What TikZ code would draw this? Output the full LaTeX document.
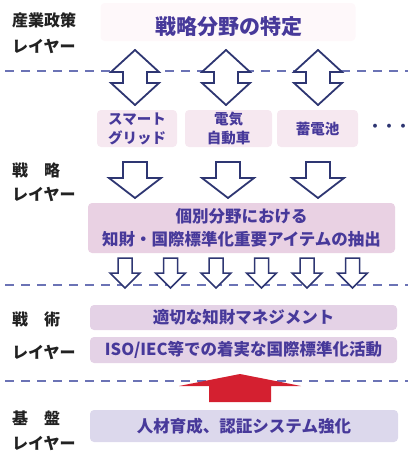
\documentclass[tikz,border=0pt]{standalone}
\usepackage{fontspec}
\newfontfamily\jp{Noto Sans CJK JP}
\definecolor{txt}{HTML}{47399A}
\definecolor{lblc}{HTML}{222222}
\definecolor{nav}{HTML}{2E3672}
\definecolor{dashc}{HTML}{6B73B5}
\definecolor{pk0}{HTML}{FEF8FA}
\definecolor{pk1}{HTML}{F6E8F0}
\definecolor{pk2}{HTML}{E9D1E3}
\definecolor{pk3}{HTML}{E4D2E6}
\definecolor{lav}{HTML}{DCD8EC}
\definecolor{redar}{HTML}{D42030}
\newcommand\blkdn[7][]{% cx, top, base, tip, halfshaft, halfhead
  \draw[blk,#1] ({#2-#6},#3) -- ({#2+#6},#3) -- ({#2+#6},#4) -- ({#2+#7},#4) -- (#2,#5) -- ({#2-#7},#4) -- ({#2-#6},#4) -- cycle;}
\newcommand\blkud[7]{% cx, top tip, base1, base2, bottom tip, halfshaft, halfhead
  \draw[blk] (#1,#2) -- ({#1+#7},#3) -- ({#1+#6},#3) -- ({#1+#6},#4) -- ({#1+#7},#4) -- (#1,#5) -- ({#1-#7},#4) -- ({#1-#6},#4) -- ({#1-#6},#3) -- ({#1-#7},#3) -- cycle;}
\begin{document}
\begin{tikzpicture}[x=1pt,y=-1pt,
  boxstyle/.style={rounded corners=4pt, inner sep=0pt, align=center, text=txt,
    font=\jp\bfseries\fontsize{16.5}{23}\selectfont},
  smallbox/.style={boxstyle, fill=pk1, minimum height=37pt,
    font=\jp\bfseries\fontsize{14.5}{19}\selectfont},
  lbl/.style={anchor=west, text=lblc, inner sep=0pt, font=\jp\bfseries\fontsize{16}{16}\selectfont},
  dashline/.style={draw=dashc, line width=1.6pt, dash pattern=on 9pt off 7pt},
  blk/.style={draw=nav, fill=white, line width=1.8pt, line join=miter}]
\useasboundingbox (0,0) rectangle (412,453);

% layer labels
\node[lbl] (l1a) at (12,20) {産業政策};
\node[lbl] (l1b) at (12,46) {レイヤー};
\node[lbl] (l2a) at (12,170) {戦　略};
\node[lbl] (l2b) at (12,194) {レイヤー};
\node[lbl] (l3a) at (12,319) {戦　術};
\node[lbl] (l3b) at (12,352) {レイヤー};
\node[lbl] (l4a) at (12,418) {基　盤};
\node[lbl] (l4b) at (12,443) {レイヤー};

% dashed layer borders
\coordinate (d1l) at (5,71);  \coordinate (d1r) at (408,71);
\coordinate (d2l) at (5,285); \coordinate (d2r) at (408,285);
\coordinate (d3l) at (5,381); \coordinate (d3r) at (408,381);
\draw[dashline] (d1l) -- (d1r);
\draw[dashline] (d2l) -- (d2r);
\draw[dashline] (d3l) -- (d3r);

% top
\node[boxstyle, fill=pk0, minimum width=255pt, minimum height=38pt] (top) at (228,22) {};
\node[text=txt, font=\jp\bfseries\fontsize{21}{21}\selectfont] (title) at (229,27) {戦略分野の特定};

% double arrows
\blkud{135}{50}{72}{83}{105}{12}{24}
\blkud{226}{50}{72}{83}{105}{12}{24}
\blkud{318}{50}{72}{83}{105}{12}{24}

% field boxes
\node[smallbox, minimum width=80pt] (sg) at (137,128.5) {スマート\\グリッド};
\node[smallbox, minimum width=87pt] (ev) at (228.5,128.5) {電気\\自動車};
\node[smallbox, minimum width=81pt] (bt) at (317.5,128.5) {蓄電池};
\node[text=nav, font=\jp\bfseries\fontsize{14}{14}\selectfont, inner sep=0pt] (dots) at (389,128) {・・・};

% down arrows
\blkdn{135}{162}{178}{198}{12}{26}
\blkdn{228}{162}{178}{198}{12}{26}
\blkdn{318}{162}{178}{198}{12}{26}

% extraction box
\node[boxstyle, fill=pk2, minimum width=307pt, minimum height=50pt] (ext) at (241.5,228) {個別分野における\\知財・国際標準化重要アイテムの抽出};

% small arrows
\foreach \cx in {125,170.5,216,261.5,307,352.5}{
  \blkdn[line width=1.5pt]{\cx}{258}{273}{288}{7}{15}
}

% tactical boxes
\node[boxstyle, fill=pk3, minimum width=307pt, minimum height=25pt] (ipm) at (243.5,317.5) {適切な知財マネジメント};
\node[boxstyle, fill=pk3, minimum width=307pt, minimum height=26pt] (iso) at (243.5,350) {ISO/IEC等での着実な国際標準化活動};

% red arrow
\fill[redar] (240,374) -- (301,386) -- (271,386) -- (271,402) -- (209,402) -- (209,386) -- (179,386) -- cycle;

% base box
\node[boxstyle, fill=lav, minimum width=308pt, minimum height=32pt] (base) at (244,426) {人材育成、認証システム強化};
\end{tikzpicture}
\end{document}
